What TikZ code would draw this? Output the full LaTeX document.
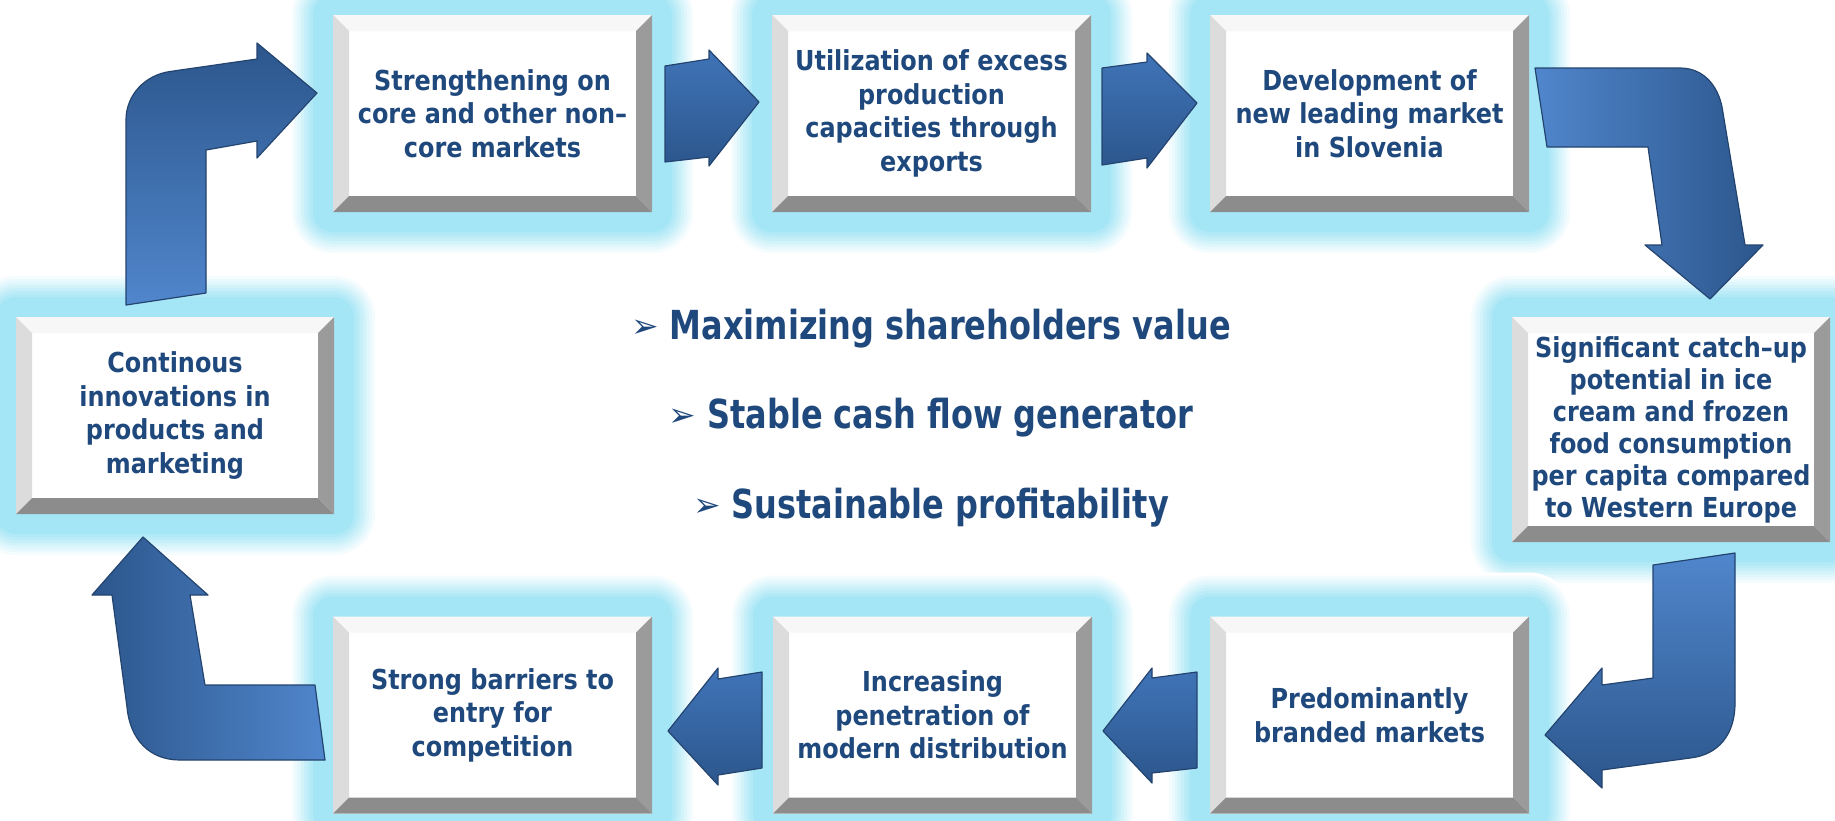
\documentclass[tikz,border=0pt]{standalone}
\usepackage{fontspec}
\newfontfamily\boxfont{DejaVu Sans}[FakeStretch=0.87]
\newfontfamily\midfont{DejaVu Sans}[FakeStretch=0.8]
\newfontfamily\symfont{DejaVu Sans}
\pgfdeclarelayer{bg}
\pgfsetlayers{bg,main}
\definecolor{txtblue}{RGB}{31,73,125}
\definecolor{glowc}{RGB}{165,230,246}
\definecolor{bevT}{RGB}{247,247,247}
\definecolor{bevL}{RGB}{220,220,220}
\definecolor{bevR}{RGB}{155,155,155}
\definecolor{bevB}{RGB}{140,140,140}
\definecolor{arrowA}{RGB}{80,134,204}
\definecolor{arrowB}{RGB}{44,86,140}
\definecolor{arrowM}{RGB}{64,116,184}
\definecolor{arrowEdge}{RGB}{36,68,112}
\tikzset{
  cyclebox/.style={fill=white, inner sep=0pt, outer sep=0pt, minimum width=319pt, minimum height=197pt,
    align=center, text=txtblue, font=\boxfont\bfseries\fontsize{27.5}{33.5}\selectfont},
  blockarrow/.style={draw=arrowEdge, line width=1.2pt, line join=round},
  midtext/.style={anchor=base, text=txtblue, inner sep=0pt, font=\midfont\bfseries\fontsize{40}{46}\selectfont}
}
\newcommand\bul{{\symfont\fontsize{33}{33}\selectfont\raisebox{2pt}{➢}}\hspace{11pt}}
\newcommand\glowfor[1]{%
  \foreach \g in {44,41,...,17}{%
    \pgfmathtruncatemacro\pc{min(100,(44-\g)*100/24)}%
    \fill[glowc!\pc!white, rounded corners=\g pt]
      ([shift={(-\g pt,\g pt)}]#1.north west) rectangle ([shift={(\g pt,-\g pt)}]#1.south east);
  }}
\newcommand\bevelfor[1]{%
  \fill[bevT] (#1.north west) -- (#1.north east) -- ([shift={(-16pt,-16pt)}]#1.north east) -- ([shift={(16pt,-16pt)}]#1.north west) -- cycle;
  \fill[bevL] (#1.north west) -- ([shift={(16pt,-16pt)}]#1.north west) -- ([shift={(16pt,16pt)}]#1.south west) -- (#1.south west) -- cycle;
  \fill[bevR] (#1.north east) -- ([shift={(-16pt,-16pt)}]#1.north east) -- ([shift={(-16pt,16pt)}]#1.south east) -- (#1.south east) -- cycle;
  \fill[bevB] (#1.south west) -- ([shift={(16pt,16pt)}]#1.south west) -- ([shift={(-16pt,16pt)}]#1.south east) -- (#1.south east) -- cycle;
}
\begin{document}
\begin{tikzpicture}[x=1pt,y=-1pt]
\useasboundingbox (0,0) rectangle (1835,820);

% boxes
\node[cyclebox] (b1) at (492.5,113.5) {Strengthening on\\core and other non–\\core markets};
\node[cyclebox] (b2) at (931.5,113.5) {Utilization of excess\\production\\capacities through\\exports};
\node[cyclebox] (b3) at (1369.5,113.5) {Development of\\new leading market\\in Slovenia};
\node[cyclebox, minimum width=318pt, minimum height=225pt, font=\boxfont\bfseries\fontsize{27.5}{32}\selectfont] (b4) at (1671,429.5)
  {Significant catch–up\\potential in ice\\cream and frozen\\food consumption\\per capita compared\\to Western Europe};
\node[cyclebox] (b5) at (1369.5,715) {Predominantly\\branded markets};
\node[cyclebox] (b6) at (932.5,715) {Increasing\\penetration of\\modern distribution};
\node[cyclebox] (b7) at (492.5,715) {Strong barriers to\\entry for\\competition};
\node[cyclebox, minimum width=318pt] (b8) at (175,415.5) {Continous\\innovations in\\products and\\marketing};

\begin{pgfonlayer}{bg}
  \fill[white] (0,0) rectangle (1835,820);
  \foreach \n in {b1,b2,b3,b4,b5,b6,b7,b8}{\glowfor{\n}}
\end{pgfonlayer}
\foreach \n in {b1,b2,b3,b4,b5,b6,b7,b8}{\bevelfor{\n}}

% bent arrows
\draw[blockarrow, top color=arrowB, bottom color=arrowA]
  (126,305) -- (126,120) .. controls (126,95) and (145,75) .. (170,71.5) -- (257,59) -- (257,43)
  -- (317,93) -- (257,158) -- (257,141) -- (206,150) -- (206,293) -- cycle;
\draw[blockarrow, left color=arrowA, right color=arrowB]
  (1535,68) -- (1680,68) .. controls (1705,68) and (1720,88) .. (1723,113) -- (1745,245) -- (1763,245)
  -- (1710,299) -- (1645,245) -- (1662,245) -- (1648,147) -- (1547,147) -- cycle;
\draw[blockarrow, top color=arrowA, bottom color=arrowB]
  (1653,565) -- (1735,553) -- (1735,703) .. controls (1735,735) and (1718,755) .. (1690,758) -- (1602,770)
  -- (1602,788) -- (1545,735) -- (1602,668) -- (1602,685) -- (1653,678) -- cycle;
\draw[blockarrow, left color=arrowB, right color=arrowA]
  (325,760) -- (180,760) .. controls (150,760) and (130,740) .. (127,707) -- (112,595) -- (92,595)
  -- (143,537) -- (208,595) -- (190,595) -- (205,685) -- (315,685) -- cycle;

% straight arrows
\draw[blockarrow, top color=arrowM, bottom color=arrowB]
  (665,66) -- (709,59) -- (709,50) -- (759,102) -- (709,166) -- (709,157) -- (665,162) -- cycle;
\draw[blockarrow, top color=arrowM, bottom color=arrowB]
  (1102,68) -- (1147,62) -- (1147,53) -- (1197,103) -- (1147,168) -- (1147,158) -- (1102,165) -- cycle;
\draw[blockarrow, top color=arrowM, bottom color=arrowB]
  (1197,672) -- (1152,678) -- (1152,668) -- (1103,731) -- (1152,783) -- (1152,773) -- (1197,768) -- cycle;
\draw[blockarrow, top color=arrowM, bottom color=arrowB]
  (762,672) -- (718,679) -- (718,668) -- (668,731) -- (718,785) -- (718,775) -- (762,768) -- cycle;

% centre text
\node[midtext] (m1) at (931,339) {\bul Maximizing shareholders value};
\node[midtext] (m2) at (931,428) {\bul Stable cash flow generator};
\node[midtext] (m3) at (931,518) {\bul Sustainable profitability};
\end{tikzpicture}
\end{document}
